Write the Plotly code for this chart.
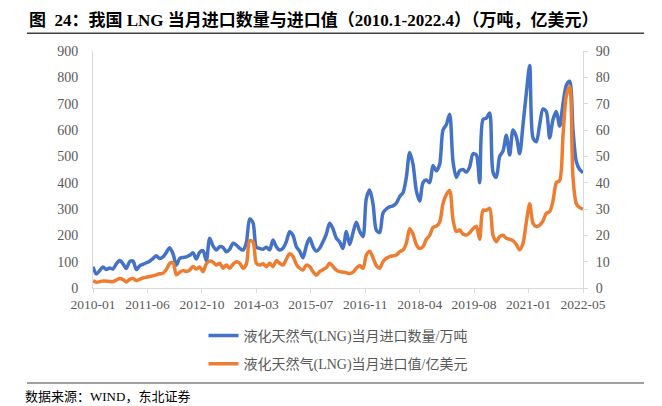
import plotly.graph_objects as go
import numpy as np

tick_labels = ["2010-01", "2011-06", "2012-10", "2014-03", "2015-07",
               "2016-11", "2018-04", "2019-08", "2021-01", "2022-05"]

# 液化天然气(LNG)当月进口数量/万吨, monthly 2010-01 .. 2022-04
volume = [
    81, 53, 66, 80, 70, 76, 72, 92, 104, 92, 74, 100,
    102, 70, 84, 90, 96, 102, 112, 122, 112, 118, 135, 153,
    130, 87, 112, 116, 118, 124, 134, 110, 136, 142, 104, 189,
    160, 144, 157, 154, 138, 147, 170, 163, 151, 144, 172, 262,
    248, 155, 150, 147, 155, 145, 182, 157, 144, 151, 176, 214,
    200, 157, 140, 115, 160, 190, 157, 140, 151, 176, 205, 246,
    225, 189, 175, 150, 215, 165, 210, 250, 215, 195, 340, 372,
    320, 220, 210, 285, 300, 308, 312, 322, 347, 362, 420, 515,
    470, 370, 330, 400, 410, 400, 465, 445, 470, 600, 620, 660,
    480, 420, 445, 450, 440, 460, 510, 505, 400, 640, 645, 665,
    440, 420, 500, 520, 580, 505, 600, 575, 510, 620, 740, 845,
    570, 555, 620, 680, 670, 570, 640, 670, 615, 700, 770, 785,
    600, 480, 450, 438,
]

# 液化天然气(LNG)当月进口值/亿美元, monthly 2010-01 .. 2022-04
value = [
    2.7, 2.2, 2.4, 2.7, 2.6, 2.5, 2.4, 3.0, 3.6, 3.2, 2.3, 3.3,
    3.6, 2.8, 3.3, 3.8, 4.1, 4.4, 4.6, 5.0, 5.4, 5.6, 7.0, 9.3,
    9.6, 5.0, 6.0, 6.6, 6.3, 6.8, 8.2, 7.2, 8.0, 6.2, 9.2, 10.2,
    9.8, 8.7, 9.4, 7.5, 8.7, 7.5, 9.0, 10.0, 9.4, 7.5, 9.0, 18.0,
    17.5, 9.4, 8.7, 9.2, 8.1, 9.4, 8.1, 10.4, 9.4, 8.7, 11.0, 13.0,
    12.0, 9.0, 7.5, 6.8, 8.7, 8.1, 6.2, 4.9, 6.2, 7.0, 7.8, 9.4,
    8.2, 6.8, 6.2, 6.0, 5.8, 5.5, 6.0, 7.5, 8.5, 7.5, 12.5, 14.0,
    11.5, 8.5, 7.5, 10.0, 11.3, 11.9, 12.2, 12.5, 13.8, 14.4, 17.0, 22.5,
    20.5, 16.5, 15.0, 15.7, 18.5, 20.0, 23.0, 23.5, 25.0, 32.0, 35.5, 37.0,
    26.0, 21.5, 22.0, 20.5, 20.1, 21.0, 22.5, 23.5, 18.5, 29.5, 29.5, 30.3,
    20.0, 17.6, 19.5, 20.0, 18.9, 18.5, 18.0, 16.5, 14.5, 17.0, 25.0, 32.0,
    24.6, 23.3, 23.9, 25.5, 28.4, 29.0, 33.0, 40.0, 40.8, 58.0, 73.0, 76.5,
    42.0, 32.0, 30.5, 30.0,
]

x = list(range(len(volume)))
tickvals = list(np.linspace(0, len(volume) - 1, len(tick_labels)))

serif = "Liberation Serif, Noto Sans CJK SC"
gray = "#595959"
axis_gray = "#d9d9d9"

fig = go.Figure()
fig.add_trace(go.Scatter(
    x=x, y=volume, mode="lines", name="液化天然气(LNG)当月进口数量/万吨",
    line=dict(color="#4472C4", width=3.5, shape="spline", smoothing=0.8),
    legendgroup="a",
))
fig.add_trace(go.Scatter(
    x=x, y=value, mode="lines", name="液化天然气(LNG)当月进口值/亿美元",
    line=dict(color="#ED7D31", width=3.5, shape="spline", smoothing=0.8),
    yaxis="y2", legendgroup="b",
))

fig.update_layout(
    width=662, height=406,
    margin=dict(l=93, r=79, t=51, b=118),
    paper_bgcolor="white", plot_bgcolor="white",
    showlegend=True,
    legend=dict(x=0.5, xanchor="center", y=-0.135, yanchor="top",
                orientation="v", tracegroupgap=7,
                font=dict(family=serif, size=14, color=gray)),
    xaxis=dict(range=[0, len(volume) - 1], tickvals=tickvals, ticktext=tick_labels,
               showgrid=False, zeroline=False, showline=True, linecolor=axis_gray,
               linewidth=1, ticks="outside", ticklen=4, tickcolor=axis_gray,
               tickfont=dict(family=serif, size=13.5, color=gray)),
    yaxis=dict(range=[0, 900], dtick=100, showgrid=False, zeroline=False,
               showline=True, linecolor=axis_gray, linewidth=1, ticks="",
               ticklabelstandoff=11,
               tickfont=dict(family=serif, size=14, color=gray)),
    yaxis2=dict(range=[0, 90], dtick=10, overlaying="y", side="right",
                showgrid=False, zeroline=False, showline=True, linecolor=axis_gray,
                linewidth=1, ticks="outside", ticklen=4, tickcolor=axis_gray,
                ticklabelstandoff=5,
                tickfont=dict(family=serif, size=14, color=gray)),
    annotations=[
        dict(text="<b>图  24：我国 LNG 当月进口数量与进口值（2010.1-2022.4）（万吨，亿美元）</b>",
             xref="paper", yref="paper", x=-0.1347, y=1.131, xanchor="left", yanchor="middle",
             showarrow=False, font=dict(family=serif, size=17, color="black")),
        dict(text="数据来源：WIND，东北证券",
             xref="paper", yref="paper", x=-0.142, y=-0.4557, xanchor="left", yanchor="middle",
             showarrow=False, font=dict(family=serif, size=13, color="black")),
    ],
    shapes=[
        dict(type="line", xref="paper", yref="paper", x0=-0.1347, x1=1.1245, y0=1.075, y1=1.075,
             line=dict(color="#404040", width=1.5)),
        dict(type="line", xref="paper", yref="paper", x0=-0.1347, x1=1.1245, y0=-0.4008, y1=-0.4008,
             line=dict(color="#404040", width=1)),
    ],
)

fig.write_html("out.html", config={"displayModeBar": False},
               post_script="document.body.style.margin='0';document.body.style.padding='0';")
